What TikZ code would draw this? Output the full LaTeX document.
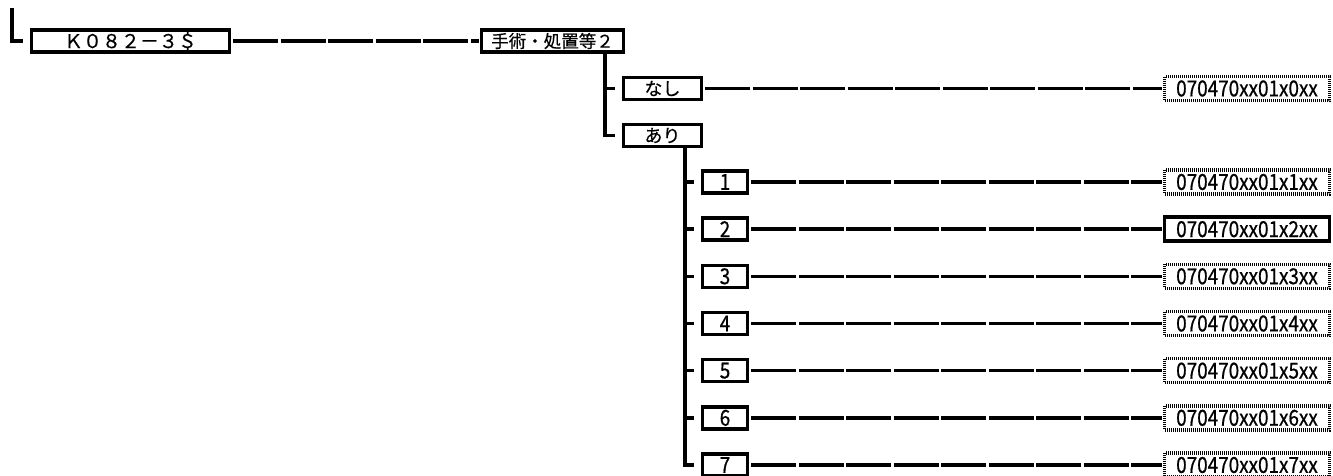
\documentclass[tikz,border=0pt]{standalone}
\usepackage{fontspec}
\setmainfont{Noto Sans CJK JP}[FakeBold=0.5]
\newfontfamily\codefont[FakeStretch=0.86,FakeBold=0.6]{Noto Sans CJK JP}
\usetikzlibrary{positioning}

\begin{document}
\begin{tikzpicture}[
  x=1pt, y=-1pt,
  node distance=21.67pt,
  box/.style={draw, line width=3.5pt, inner sep=0pt, minimum height=22pt, font=\fontsize{18}{18}\selectfont},
  item/.style={box, minimum width=45pt, font=\codefont\fontsize{22}{22}\selectfont},
  code/.style={box, minimum width=165pt, minimum height=24pt, dash pattern=on 1pt off 1pt, font=\codefont\fontsize{22}{22}\selectfont},
  codesel/.style={code, solid},
  link/.style={line width=3.5pt, dash pattern=on 45pt off 2.5pt, shorten <=2pt, shorten >=1pt},
  branch/.style={line width=3.5pt, shorten >=7pt}
]
\useasboundingbox (0,0) rectangle (1333,475);

\coordinate (root) at (12,8);
\node[box, minimum width=198pt, font=\fontsize{19}{19}\selectfont] (k082) at (130.5,41) {Ｋ０８２－３＄};
\draw[branch] (root) |- (k082.west);

\node[box, minimum width=142pt, font=\fontsize{17.5}{17.5}\selectfont] (shochi) at (552.5,41) {手術・処置等２};
\draw[link] (k082) -- (shochi);

\node[box, minimum width=78pt] (nashi) at (662.5,88.5) {なし};
\node[box, minimum width=78pt] (ari) at (662.5,135.5) {あり};
\draw[branch] ([xshift=-20.5pt]shochi.south east) |- (nashi.west);
\draw[branch] ([xshift=-20.5pt]shochi.south east) |- (ari.west);

\node[code] (r0) at (nashi -| 1247,0) {070470xx01x0xx};
\draw[link] (nashi) -- (r0);

% ari
\node[item] (c1) at (725,182) {1};
\draw[branch] ([xshift=-18.5pt]ari.south east) |- (c1.west);
\node[code] (r1) at (c1 -| 1247,0) {070470xx01x1xx};
\draw[link] (c1) -- (r1);

\node[item, below=of c1] (c2) {2};
\draw[branch] ([xshift=-18.5pt]ari.south east) |- (c2.west);
\node[codesel] (r2) at (c2 -| 1247,0) {070470xx01x2xx};
\draw[link] (c2) -- (r2);

\node[item, below=of c2] (c3) {3};
\draw[branch] ([xshift=-18.5pt]ari.south east) |- (c3.west);
\node[code] (r3) at (c3 -| 1247,0) {070470xx01x3xx};
\draw[link] (c3) -- (r3);

\node[item, below=of c3] (c4) {4};
\draw[branch] ([xshift=-18.5pt]ari.south east) |- (c4.west);
\node[code] (r4) at (c4 -| 1247,0) {070470xx01x4xx};
\draw[link] (c4) -- (r4);

\node[item, below=of c4] (c5) {5};
\draw[branch] ([xshift=-18.5pt]ari.south east) |- (c5.west);
\node[code] (r5) at (c5 -| 1247,0) {070470xx01x5xx};
\draw[link] (c5) -- (r5);

\node[item, below=of c5] (c6) {6};
\draw[branch] ([xshift=-18.5pt]ari.south east) |- (c6.west);
\node[code] (r6) at (c6 -| 1247,0) {070470xx01x6xx};
\draw[link] (c6) -- (r6);

\node[item, below=of c6] (c7) {7};
\draw[branch] ([xshift=-18.5pt]ari.south east) |- (c7.west);
\node[code] (r7) at (c7 -| 1247,0) {070470xx01x7xx};
\draw[link] (c7) -- (r7);
\end{tikzpicture}
\end{document}
